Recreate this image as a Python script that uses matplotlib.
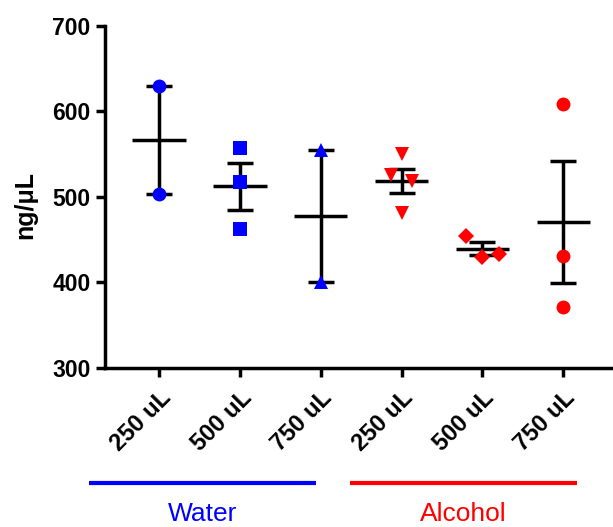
#!/usr/bin/env python3
"""Scatter of DNA yield per elution volume with mean and SEM bars."""
import numpy as np
import matplotlib

matplotlib.use("Agg")
import matplotlib.pyplot as plt  # noqa: E402
from matplotlib.transforms import blended_transform_factory  # noqa: E402

plt.rcParams["font.family"] = ["Liberation Sans", "DejaVu Sans"]

# data
tick_labels = ["250 uL", "500 uL", "750 uL", "250 uL", "500 uL", "750 uL"]
water_250 = [629, 503]
water_500 = [557, 517, 462]
water_750 = [555, 400]
alcohol_250 = [550, 525, 518, 481]
alcohol_500 = [454, 430, 433]
alcohol_750 = [608, 431, 371]
groups = [water_250, water_500, water_750, alcohol_250, alcohol_500, alcohol_750]
group_names = ["Water", "Alcohol"]

# styling only
jitter = [
    [0, 0],
    [0, 0, 0],
    [0, 0],
    [0, -0.128, 0.128, 0],
    [-0.207, 0, 0.207],
    [0, 0, 0],
]
markers = ["o", "s", "^", "v", "D", "o"]
marker_sizes = [10, 10, 10.5, 10.5, 8.5, 10]
colors = ["#0000FF"] * 3 + ["#FF0000"] * 3

fig = plt.figure(figsize=(6.13, 5.27), dpi=100)
ax = fig.add_axes([0.1713, 0.3023, 0.8287, 0.649])

for i, vals in enumerate(groups):
    x = i + 1
    vals = np.asarray(vals, dtype=float)
    xs = x + np.asarray(jitter[i])
    ax.plot(xs, vals, linestyle="none", marker=markers[i], ms=marker_sizes[i],
            color=colors[i], markeredgewidth=0, zorder=4)
    mean = vals.mean()
    sem = vals.std(ddof=1) / np.sqrt(len(vals))
    ax.plot([x - 0.33, x + 0.33], [mean, mean], color="black", lw=2.5,
            solid_capstyle="butt", zorder=3)
    ax.errorbar([x], [mean], yerr=[sem], fmt="none", ecolor="black",
                elinewidth=2.5, capsize=9.7, capthick=2.5, zorder=3)

ax.set_xlim(0.332, 6.615)
ax.set_ylim(300, 700)
ax.set_yticks([300, 400, 500, 600, 700])
ax.set_xticks(range(1, 7))
ax.set_xticklabels(tick_labels, rotation=45, ha="right", va="top",
                   rotation_mode="anchor", fontsize=17, fontweight="bold")
for lab in ax.get_yticklabels():
    lab.set_fontsize(16.5)
    lab.set_fontweight("bold")
ax.tick_params(axis="both", width=2.5, length=6.5, pad=4)
ax.tick_params(axis="x", pad=7)
for side in ["top", "right"]:
    ax.spines[side].set_visible(False)
for side in ["left", "bottom"]:
    ax.spines[side].set_linewidth(2.5)
ax.set_ylabel("ng/μL", fontsize=18, fontweight="bold")
ax.yaxis.set_label_coords(-0.134, 0.476)

# group bars under the tick labels
trans = blended_transform_factory(ax.transData, ax.transAxes)
spans = [(0.133, 2.946), (3.362, 6.175)]
for (x0, x1), name, c in zip(spans, group_names, ["#0000FF", "#FF0000"]):
    ax.plot([x0, x1], [-0.337, -0.337], color=c, lw=3, transform=trans,
            clip_on=False, solid_capstyle="butt")
    ax.text((x0 + x1) / 2, -0.428, name, color=c, fontsize=19,
            ha="center", va="center", transform=trans)

fig.savefig("out.png", dpi=100)
